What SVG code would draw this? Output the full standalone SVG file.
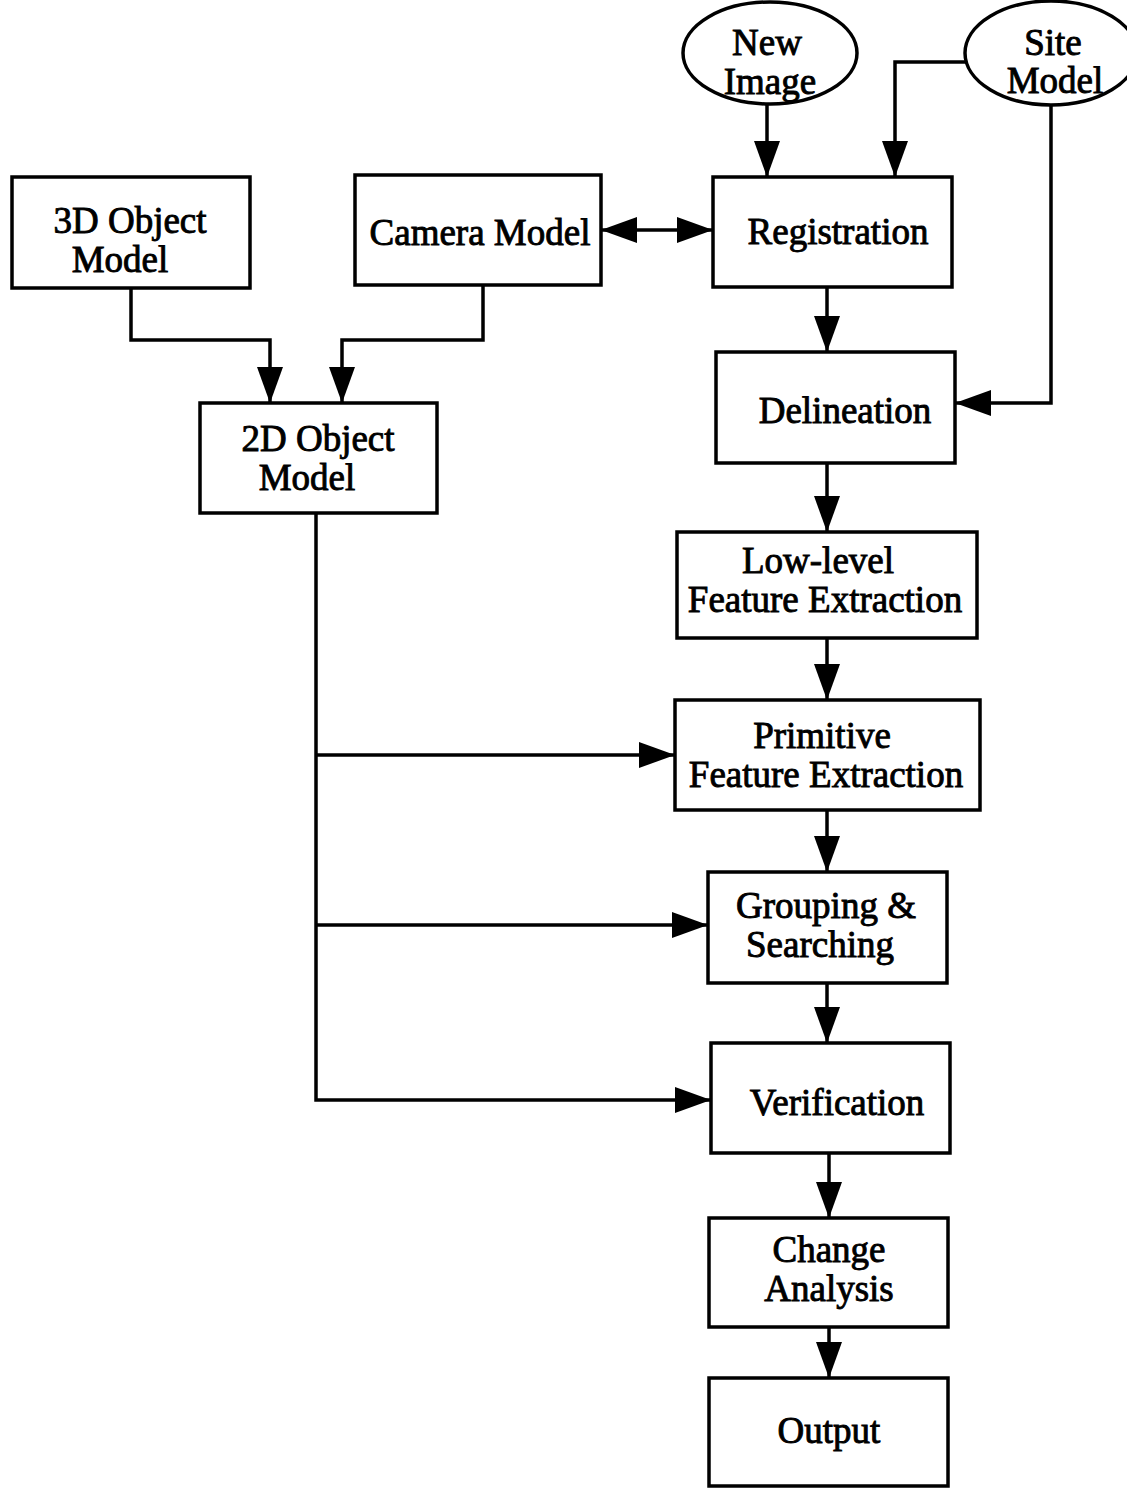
<svg xmlns="http://www.w3.org/2000/svg" width="1127" height="1488" viewBox="0 0 1127 1488">
<defs>
<style>
.box{fill:#fff;stroke:#000;stroke-width:3.5}
.t{font-family:"Liberation Serif","Times New Roman",serif;font-size:37px;fill:#000;stroke:#000;stroke-width:0.9;text-anchor:middle}
.c{fill:none;stroke:#000;stroke-width:3.5}
</style>
<marker id="ah" viewBox="0 0 36 26" refX="36" refY="13" markerWidth="36" markerHeight="26" markerUnits="userSpaceOnUse" orient="auto-start-reverse">
<path d="M0,0 L36,13 L0,26 Z" fill="#000"/>
</marker>
</defs>
<rect width="1127" height="1488" fill="#fff"/>
<g id="connectors">
<path class="c" d="M767,104 V177" marker-end="url(#ah)"/>
<path class="c" d="M966,62 H895 V177" marker-end="url(#ah)"/>
<path class="c" d="M1051,105 V403 H955" marker-end="url(#ah)"/>
<path class="c" d="M601,230 H713" marker-start="url(#ah)" marker-end="url(#ah)"/>
<path class="c" d="M131,288 V340 H270 V403" marker-end="url(#ah)"/>
<path class="c" d="M483,285 V340 H342 V403" marker-end="url(#ah)"/>
<path class="c" d="M827,287 V352" marker-end="url(#ah)"/>
<path class="c" d="M827,463 V532" marker-end="url(#ah)"/>
<path class="c" d="M827,638 V700" marker-end="url(#ah)"/>
<path class="c" d="M827,810 V872" marker-end="url(#ah)"/>
<path class="c" d="M827,983 V1043" marker-end="url(#ah)"/>
<path class="c" d="M829,1153 V1218" marker-end="url(#ah)"/>
<path class="c" d="M829,1327 V1378" marker-end="url(#ah)"/>
<path class="c" d="M316,513 V1100 H711" marker-end="url(#ah)"/>
<path class="c" d="M316,755 H675" marker-end="url(#ah)"/>
<path class="c" d="M316,925 H708" marker-end="url(#ah)"/>
</g>
<g id="new-image"><ellipse class="box" cx="770" cy="53" rx="87" ry="51"/><text class="t" x="767" y="55">New</text><text class="t" x="770" y="94">Image</text></g>
<g id="site-model"><ellipse class="box" cx="1051" cy="53" rx="86" ry="52"/><text class="t" x="1053" y="55">Site</text><text class="t" x="1055" y="93">Model</text></g>
<g id="registration"><rect class="box" x="713" y="177" width="239" height="110"/><text class="t" x="838" y="244">Registration</text></g>
<g id="camera-model"><rect class="box" x="355" y="175" width="246" height="110"/><text class="t" x="480" y="245">Camera Model</text></g>
<g id="obj3d"><rect class="box" x="12" y="177" width="238" height="111"/><text class="t" x="130" y="233">3D Object</text><text class="t" x="120" y="272">Model</text></g>
<g id="obj2d"><rect class="box" x="200" y="403" width="237" height="110"/><text class="t" x="318" y="451">2D Object</text><text class="t" x="307" y="490">Model</text></g>
<g id="delineation"><rect class="box" x="716" y="352" width="239" height="111"/><text class="t" x="845" y="423">Delineation</text></g>
<g id="lowlevel"><rect class="box" x="677" y="532" width="300" height="106"/><text class="t" x="818" y="573">Low-level</text><text class="t" x="825" y="612">Feature Extraction</text></g>
<g id="primitive"><rect class="box" x="675" y="700" width="305" height="110"/><text class="t" x="822" y="748">Primitive</text><text class="t" x="826" y="787">Feature Extraction</text></g>
<g id="grouping"><rect class="box" x="708" y="872" width="239" height="111"/><text class="t" x="826" y="918">Grouping &amp;</text><text class="t" x="820" y="957">Searching</text></g>
<g id="verification"><rect class="box" x="711" y="1043" width="239" height="110"/><text class="t" x="837" y="1115">Verification</text></g>
<g id="change"><rect class="box" x="709" y="1218" width="239" height="109"/><text class="t" x="829" y="1262">Change</text><text class="t" x="829" y="1301">Analysis</text></g>
<g id="output"><rect class="box" x="709" y="1378" width="239" height="108"/><text class="t" x="829" y="1443">Output</text></g>
</svg>
